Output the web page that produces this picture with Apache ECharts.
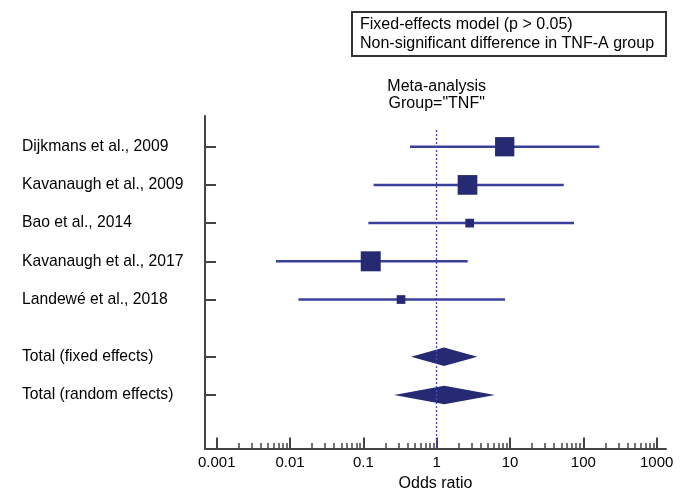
<!DOCTYPE html>
<html><head><meta charset="utf-8">
<script src="https://cdn.jsdelivr.net/npm/echarts@6/dist/echarts.min.js"></script>
<style>html,body{margin:0;padding:0;background:#fff}#c{width:682px;height:488px}</style>
</head><body><div id="c"></div>
<script>
// ---- data ----
const studies = ['Dijkmans et al., 2009', 'Kavanaugh et al., 2009', 'Bao et al., 2014', 'Kavanaugh et al., 2017', 'Landewé et al., 2018'];
const oddsRatio = [8.46, 2.63, 2.82, 0.126, 0.326];
const ciLow = [0.432, 0.138, 0.117, 0.0064, 0.0130];
const ciHigh = [165, 54, 74.5, 2.65, 8.54];
const weights = [28.4, 29.6, 5.8, 30.5, 5.8];
const totals = ['Total (fixed effects)', 'Total (random effects)'];
const totalOR = [1.26, 1.27];
const totalLow = [0.447, 0.262];
const totalHigh = [3.58, 6.24];
const majorTicks = [0.001, 0.01, 0.1, 1, 10, 100, 1000];
const tickLabels = ['0.001', '0.01', '0.1', '1', '10', '100', '1000'];
const studyRows = [1, 2, 3, 4, 5];
const totalRows = [6.5, 7.5];

const minorTicks = [];
majorTicks.slice(0, -1).forEach(d => { for (let k = 2; k <= 9; k++) minorTicks.push(+(d * k).toPrecision(3)); });
const rowNames = {};
studyRows.forEach((r, i) => rowNames[r] = studies[i]);
totalRows.forEach((r, i) => rowNames[r] = totals[i]);
const labelMap = {};
majorTicks.forEach((v, i) => labelMap[v] = tickLabels[i]);

const FONT = 'Liberation Sans, Arial, sans-serif';
const AXC = '#444';
const chart = echarts.init(document.getElementById('c'));
const xMin = 0.000692, xMax = 1340;

chart.setOption({
  animation: false,
  backgroundColor: '#fff',
  textStyle: { fontFamily: FONT },
  grid: { left: 205, right: 16, top: 116, bottom: 39.5, outerBoundsMode: 'none', containLabel: false },
  xAxis: [{
    type: 'log', logBase: 10, min: xMin, max: xMax,
    name: 'Odds ratio', nameLocation: 'middle', nameGap: 26,
    nameTextStyle: { fontSize: 16, color: '#000', fontFamily: FONT },
    axisLine: { show: true, lineStyle: { color: AXC, width: 2 } },
    axisTick: { show: true, inside: true, length: 11, customValues: majorTicks, lineStyle: { color: AXC, width: 2 } },
    axisLabel: { customValues: majorTicks, margin: 7, fontSize: 15, color: '#000', fontFamily: FONT,
      formatter: v => { for (const k in labelMap) { if (Math.abs(Math.log10(+k) - Math.log10(v)) < 1e-6) return labelMap[k]; } return ''; } },
    splitLine: { show: false }
  }, {
    type: 'log', logBase: 10, min: xMin, max: xMax, position: 'bottom',
    axisLine: { show: false },
    axisTick: { show: true, inside: true, length: 5.5, customValues: minorTicks, lineStyle: { color: AXC, width: 1.5 } },
    axisLabel: { show: false },
    splitLine: { show: false }
  }],
  yAxis: {
    type: 'value', inverse: true, min: 0.196, max: 8.9,
    axisLine: { show: true, lineStyle: { color: AXC, width: 2 } },
    axisTick: { show: true, inside: true, length: 11, customValues: studyRows.concat(totalRows), lineStyle: { color: AXC, width: 2 } },
    axisLabel: { customValues: studyRows.concat(totalRows), align: 'left', margin: 183, fontSize: 15.7, color: '#000', fontFamily: FONT,
      formatter: v => rowNames[v] || '' },
    splitLine: { show: false }
  },
  graphic: [
    { type: 'rect', shape: { x: 352, y: 12, width: 314, height: 44 }, style: { fill: '#fff', stroke: '#333', lineWidth: 2 } },
    { type: 'text', x: 360, y: 25, style: { text: 'Fixed-effects model (p > 0.05)', font: '16px ' + FONT, fill: '#000', verticalAlign: 'middle' } },
    { type: 'text', x: 360, y: 43.5, style: { text: 'Non-significant difference in TNF-A group', font: '16px ' + FONT, fill: '#000', verticalAlign: 'middle' } },
    { type: 'text', x: 436.7, y: 87, style: { text: 'Meta-analysis', font: '16px ' + FONT, fill: '#000', align: 'center', verticalAlign: 'middle' } },
    { type: 'text', x: 436.7, y: 104, style: { text: 'Group="TNF"', font: '16px ' + FONT, fill: '#000', align: 'center', verticalAlign: 'middle' } }
  ],
  series: [{
    type: 'custom', xAxisIndex: 0,
    encode: { x: [0, 1, 2], y: 3 },
    data: studies.map((s, i) => [ciLow[i], ciHigh[i], oddsRatio[i], studyRows[i], weights[i]]),
    renderItem: (params, api) => {
      const lo = api.coord([api.value(0), api.value(3)]);
      const hi = api.coord([api.value(1), api.value(3)]);
      const c = api.coord([api.value(2), api.value(3)]);
      const s = Math.sqrt(api.value(4)) * 3.62;
      return { type: 'group', children: [
        { type: 'line', shape: { x1: lo[0], y1: lo[1], x2: hi[0], y2: hi[1] }, style: { stroke: '#3b3f9c', lineWidth: 2.5 } },
        { type: 'rect', shape: { x: c[0] - s / 2, y: c[1] - s / 2, width: s, height: s }, style: { fill: '#262a73' } }
      ] };
    },
    markLine: {
      silent: true, symbol: 'none', label: { show: false },
      lineStyle: { color: '#4444bb', width: 1.3, type: [2, 2] },
      data: [[{ coord: [1, 0.56] }, { coord: [1, 8.9] }]]
    },
    z: 3
  }, {
    type: 'custom', xAxisIndex: 0,
    encode: { x: [0, 1, 2], y: 3 },
    data: totals.map((s, i) => [totalLow[i], totalHigh[i], totalOR[i], totalRows[i]]),
    renderItem: (params, api) => {
      const lo = api.coord([api.value(0), api.value(3)]);
      const hi = api.coord([api.value(1), api.value(3)]);
      const c = api.coord([api.value(2), api.value(3)]);
      const h = 9.2;
      return { type: 'polygon', shape: { points: [[lo[0], lo[1]], [c[0], c[1] - h], [hi[0], hi[1]], [c[0], c[1] + h]] }, style: { fill: '#262a73' } };
    },
    z: 4
  }]
});
</script></body></html>
